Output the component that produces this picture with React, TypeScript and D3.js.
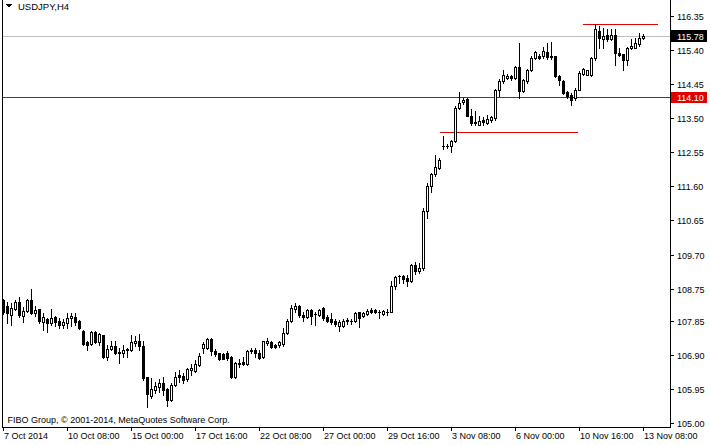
import React from "react";
import * as d3 from "d3";

const W = 710;
const H = 445;

const opens = [
  108.44, 108.27, 108.02, 108.18, 108.39, 108.0, 108.14, 108.44, 108.07, 108.18,
  107.83, 107.91, 107.79, 107.96, 107.86, 107.74, 107.79, 107.93, 107.97, 107.85,
  107.58, 107.25, 107.2, 107.53, 107.25, 107.46, 106.84, 107.06, 107.16, 106.98,
  106.95, 107.04, 107.04, 107.23, 107.28, 107.16, 106.28, 105.76, 105.93, 106.02,
  106.13, 105.95, 105.65, 106.07, 106.35, 106.32, 106.23, 106.49, 106.47, 106.63,
  107.09, 107.09, 107.34, 107.0, 106.95, 106.93, 106.95, 106.84, 106.3, 106.65,
  106.72, 106.65, 107.0, 107.04, 106.97, 106.84, 107.23, 107.25, 107.18, 107.18,
  107.21, 107.51, 107.86, 108.18, 108.27, 108.02, 107.97, 108.16, 108.04, 108.02,
  108.21, 107.97, 107.91, 107.86, 107.71, 107.71, 107.86, 107.86, 107.86, 108.09,
  107.99, 108.05, 108.16, 108.16, 108.09, 108.05, 108.11, 108.11, 108.83, 109.09,
  109.11, 109.04, 108.95, 109.41, 109.25, 109.32, 110.9, 111.6, 111.94, 112.11,
  112.71, 112.71, 112.71, 112.85, 113.78, 113.94, 114.03, 113.57, 113.38, 113.32,
  113.45, 113.36, 113.44, 113.5, 114.27, 114.53, 114.62, 114.67, 114.62, 114.93,
  114.25, 114.53, 114.83, 115.18, 115.22, 115.22, 115.33, 115.22, 115.22, 114.67,
  114.53, 114.22, 114.15, 114.05, 114.29, 114.74, 114.71, 114.71, 115.16, 115.92,
  115.69, 115.81, 115.69, 115.81, 115.32, 115.27, 115.13, 115.44, 115.46, 115.55,
  115.72,
];

const highs = [
  108.46, 108.39, 108.35, 108.44, 108.51, 108.25, 108.46, 108.74, 108.27, 108.18,
  108.07, 107.93, 108.18, 108.0, 107.93, 107.9, 108.07, 108.07, 108.07, 107.88,
  107.6, 107.28, 107.56, 107.56, 107.51, 107.46, 107.18, 107.28, 107.3, 107.09,
  107.18, 107.11, 107.46, 107.42, 107.48, 107.3, 106.3, 106.25, 106.16, 106.23,
  106.3, 105.98, 106.12, 106.44, 106.49, 106.39, 106.53, 106.65, 106.77, 106.95,
  107.25, 107.37, 107.37, 107.06, 106.97, 106.97, 107.0, 106.88, 106.72, 106.78,
  106.84, 107.03, 107.09, 107.09, 107.04, 107.3, 107.37, 107.28, 107.21, 107.3,
  107.65, 107.9, 108.3, 108.35, 108.3, 108.11, 108.18, 108.18, 108.11, 108.18,
  108.25, 108.02, 108.07, 107.9, 107.88, 107.9, 107.93, 107.9, 108.09, 108.11,
  108.11, 108.18, 108.21, 108.18, 108.16, 108.16, 108.18, 108.95, 109.09, 109.14,
  109.14, 109.14, 109.44, 109.48, 109.46, 110.99, 111.69, 111.97, 112.48, 112.39,
  112.99, 112.78, 112.9, 113.83, 114.22, 114.06, 114.06, 113.74, 113.71, 113.55,
  113.52, 113.58, 113.57, 114.31, 114.59, 114.83, 114.74, 114.71, 114.95, 115.6,
  114.58, 114.87, 115.22, 115.36, 115.27, 115.48, 115.59, 115.62, 115.24, 114.69,
  114.55, 114.25, 114.2, 114.34, 114.8, 114.9, 114.85, 115.2, 116.11, 116.06,
  116.01, 115.97, 115.97, 115.97, 115.46, 115.29, 115.48, 115.69, 115.72, 115.87,
  115.84,
];

const lows = [
  108.05, 107.79, 107.74, 108.16, 107.97, 107.83, 108.11, 108.04, 108.0, 107.79,
  107.6, 107.53, 107.74, 107.7, 107.65, 107.65, 107.65, 107.7, 107.74, 107.62,
  107.18, 107.04, 107.18, 107.23, 107.18, 106.81, 106.75, 107.04, 106.93, 106.67,
  106.86, 106.86, 107.0, 107.14, 107.04, 106.21, 105.45, 105.7, 105.84, 105.86,
  105.79, 105.48, 105.63, 106.04, 106.16, 106.12, 106.19, 106.35, 106.44, 106.6,
  106.97, 107.06, 106.91, 106.88, 106.77, 106.78, 106.77, 106.25, 106.25, 106.58,
  106.63, 106.63, 106.95, 106.86, 106.78, 106.81, 107.18, 107.09, 107.09, 107.12,
  107.14, 107.48, 107.83, 108.11, 107.97, 107.86, 107.93, 107.77, 107.74, 107.99,
  107.88, 107.81, 107.77, 107.71, 107.58, 107.68, 107.77, 107.77, 107.83, 107.68,
  107.97, 108.02, 108.07, 108.07, 107.93, 108.02, 108.02, 108.09, 108.74, 108.9,
  108.9, 108.83, 108.93, 109.16, 109.18, 109.27, 110.72, 111.43, 111.88, 112.08,
  112.64, 112.67, 112.55, 112.83, 113.76, 113.9, 113.55, 113.32, 113.32, 113.3,
  113.3, 113.33, 113.38, 113.45, 114.11, 114.48, 114.6, 114.57, 114.6, 114.07,
  114.22, 114.48, 114.8, 115.14, 115.14, 115.18, 115.14, 115.14, 114.65, 114.43,
  114.18, 114.06, 113.85, 113.99, 114.27, 114.71, 114.69, 114.66, 115.13, 115.46,
  115.46, 115.64, 115.66, 114.99, 115.23, 114.85, 114.97, 115.41, 115.44, 115.5,
  115.69,
];

const closes = [
  108.09, 108.07, 108.21, 108.39, 108.02, 108.13, 108.42, 108.07, 108.16, 107.86,
  107.96, 107.79, 107.93, 107.83, 107.74, 107.81, 107.93, 107.99, 107.83, 107.65,
  107.21, 107.18, 107.53, 107.25, 107.48, 106.84, 107.06, 107.16, 106.95, 106.97,
  107.04, 107.07, 107.25, 107.28, 107.14, 106.27, 105.82, 105.95, 106.04, 106.13,
  105.93, 105.65, 106.07, 106.3, 106.28, 106.21, 106.51, 106.53, 106.65, 106.88,
  107.21, 107.34, 107.0, 106.93, 106.78, 106.8, 106.81, 106.3, 106.69, 106.69,
  106.65, 107.0, 107.04, 106.95, 106.81, 107.28, 107.28, 107.12, 107.12, 107.25,
  107.51, 107.86, 108.21, 108.27, 108.02, 107.97, 108.16, 107.99, 108.04, 108.16,
  107.93, 107.86, 107.81, 107.77, 107.83, 107.86, 107.87, 107.86, 108.07, 107.93,
  108.07, 108.14, 108.11, 108.09, 108.09, 108.14, 108.11, 108.83, 109.07, 109.09,
  109.01, 108.95, 109.41, 109.23, 109.32, 110.9, 111.62, 111.94, 112.13, 112.34,
  112.72, 112.71, 112.85, 113.78, 113.92, 114.01, 113.57, 113.35, 113.35, 113.41,
  113.38, 113.46, 113.52, 114.29, 114.53, 114.71, 114.67, 114.62, 114.93, 114.25,
  114.55, 114.85, 115.18, 115.33, 115.18, 115.36, 115.2, 115.2, 114.67, 114.57,
  114.2, 114.11, 114.0, 114.29, 114.76, 114.87, 114.83, 115.16, 115.97, 115.72,
  115.78, 115.69, 115.81, 115.32, 115.25, 115.13, 115.46, 115.5, 115.58, 115.73,
  115.78,
];

const priceTickLabels = [
  "116.35", "115.40", "114.45", "113.50", "112.55", "111.60", "110.65",
  "109.70", "108.75", "107.85", "106.90", "105.95", "105.00",
];

const timeTickLabels = [
  "7 Oct 2014", "10 Oct 08:00", "15 Oct 00:00", "17 Oct 16:00", "22 Oct 08:00",
  "27 Oct 00:00", "29 Oct 16:00", "3 Nov 08:00", "6 Nov 00:00", "10 Nov 16:00",
  "13 Nov 08:00",
];
const timeTickBars = [0, 16, 32, 48, 64, 80, 96, 112, 128, 144, 160];

const bidPrice = 115.78;
const levelPrice = 114.1;
const trendFrom = [145, 109.25];
const trendTo = [163.75, 143.75];
const trendPrice = [116.11, 113.12];

const FONT = "'Liberation Sans', Arial, sans-serif";

export default function App() {
  const n = closes.length;
  const x = d3.scaleLinear().domain([0, n - 1]).range([3, 643]);
  const y = d3.scaleLinear().domain([105, 116.35]).range([423.3, 15.7]);
  const ry = (p: number) => Math.round(y(p));
  const plotRight = 670;
  const plotBottom = 427;

  const candles = d3.range(n).map((i) => {
    const cx = Math.round(x(i));
    const o = ry(opens[i]);
    const c = ry(closes[i]);
    const h = ry(highs[i]);
    const l = ry(lows[i]);
    const top = Math.min(o, c);
    const bot = Math.max(o, c);
    const bull = closes[i] > opens[i];
    return (
      <g key={i}>
        <rect x={cx} y={h} width={1} height={l - h + 1} fill="#000" />
        <rect x={cx - 1} y={top} width={3} height={bot - top + 1} fill="#000" />
        {bull && bot - top >= 2 ? (
          <rect x={cx} y={top + 1} width={1} height={bot - top - 1} fill="#fff" />
        ) : null}
      </g>
    );
  });

  const yBid = ry(bidPrice);
  const yLevel = ry(levelPrice);

  return (
    <div style={{ position: "absolute", left: 0, top: 0, width: W, height: H, background: "#fff" }}>
      <svg width={W} height={H} style={{ display: "block" }} shapeRendering="crispEdges">
        <rect x={0} y={0} width={W} height={H} fill="#fff" />
        {/* bid line */}
        <rect x={3} y={yBid} width={plotRight - 3} height={1} fill="#c0c0c0" />
        {/* horizontal level */}
        <rect x={3} y={yLevel} width={plotRight - 3} height={1} fill="#e00000" />
        {/* trend lines */}
        {trendPrice.map((p, k) => (
          <rect
            key={k}
            x={Math.round(x(trendFrom[k]))}
            y={ry(p)}
            width={Math.round(x(trendTo[k])) - Math.round(x(trendFrom[k]))}
            height={1}
            fill="#e00000"
          />
        ))}
        {candles}
        {/* frame */}
        <rect x={2} y={0} width={1} height={plotBottom + 1} fill="#000" />
        <rect x={plotRight} y={0} width={1} height={plotBottom + 1} fill="#000" />
        <rect x={2} y={plotBottom} width={plotRight - 2} height={1} fill="#000" />
        {/* price axis */}
        {priceTickLabels.map((t) => {
          const yy = ry(+t);
          return (
            <g key={t}>
              <rect x={plotRight} y={yy} width={4} height={1} fill="#000" />
              <text x={677} y={yy + 3.5} fontFamily={FONT} fontSize={9} fill="#000" shapeRendering="auto">
                {t}
              </text>
            </g>
          );
        })}
        {/* bid label */}
        <rect x={671} y={yBid - 6} width={36} height={12} fill="#000" />
        <text x={677} y={yBid + 3.5} fontFamily={FONT} fontSize={9} fill="#fff">
          {bidPrice.toFixed(2)}
        </text>
        {/* level label */}
        <rect x={671} y={yLevel - 5} width={36} height={11} fill="#e00000" />
        <text x={677} y={yLevel + 3.5} fontFamily={FONT} fontSize={9} fill="#fff">
          {levelPrice.toFixed(2)}
        </text>
        {/* time axis */}
        {timeTickBars.map((b, k) => {
          const xx = Math.round(x(b));
          return (
            <g key={b}>
              <rect x={xx} y={plotBottom} width={1} height={4} fill="#000" />
              <text x={xx + 1} y={438.5} fontFamily={FONT} fontSize={9} fill="#000">
                {timeTickLabels[k]}
              </text>
            </g>
          );
        })}
        {/* title */}
        <path d="M6,4 L12,4 L9,7.5 Z" fill="#000" />
        <text x={18} y={10} fontFamily={FONT} fontSize={9.5} fill="#000">
          USDJPY,H4
        </text>
        <text x={7.5} y={423} fontFamily={FONT} fontSize={9} fill="#000">
          FIBO Group, © 2001-2014, MetaQuotes Software Corp.
        </text>
      </svg>
    </div>
  );
}
